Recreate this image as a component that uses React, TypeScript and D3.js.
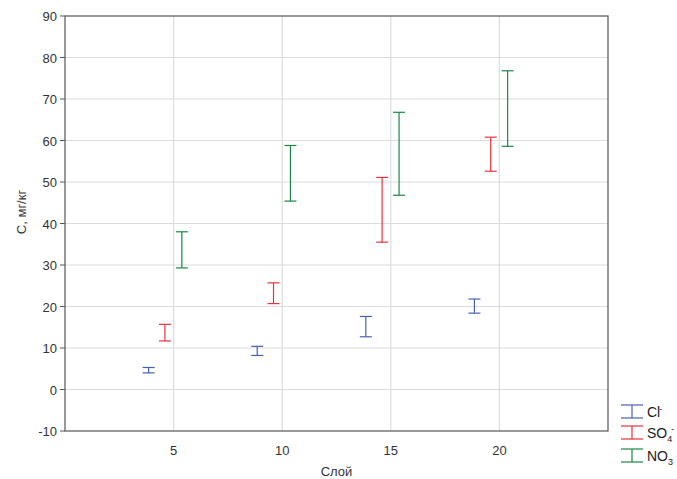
import React from 'react';
import * as d3 from 'd3';

// layers on the x axis
const layers = [5, 10, 15, 20];
const xTicks = [5, 10, 15, 20];
const yTicks = [-10, 0, 10, 20, 30, 40, 50, 60, 70, 80, 90];

// low / high ends of each error bar, one entry per layer
const clLow = [4.0, 8.2, 12.7, 18.4];
const clHigh = [5.3, 10.4, 17.6, 21.8];
const so4Low = [11.7, 20.7, 35.5, 52.6];
const so4High = [15.7, 25.7, 51.1, 60.8];
const no3Low = [29.3, 45.4, 46.8, 58.6];
const no3High = [38.0, 58.8, 66.8, 76.8];

const series = [
  { key: 'cl', low: clLow, high: clHigh, shift: -1.15, color: '#4661b3' },
  { key: 'so4', low: so4Low, high: so4High, shift: -0.4, color: '#e8333b' },
  { key: 'no3', low: no3Low, high: no3High, shift: 0.38, color: '#1a8745' },
];

const width = 677;
const height = 479;
const left = 65;
const right = 608;
const top = 16;
const bottom = 431;
const font = 'Liberation Sans, Arial, sans-serif';

export default function App() {
  const x = d3.scaleLinear().domain([0, 25]).range([left, right]);
  const y = d3.scaleLinear().domain([-10, 90]).range([bottom, top]);
  const cap = 6;

  const legendLabel = (key: string) => {
    if (key === 'cl') {
      return (
        <>
          <tspan>Cl</tspan>
          <tspan dx="-1" dy="-5" fontSize="9">-</tspan>
        </>
      );
    }
    if (key === 'so4') {
      return (
        <>
          <tspan>SO</tspan>
          <tspan dy="4" fontSize="9">4</tspan>
          <tspan dx="-1" dy="-10" fontSize="9">-</tspan>
        </>
      );
    }
    return (
      <>
        <tspan>NO</tspan>
        <tspan dy="4" fontSize="9">3</tspan>
      </>
    );
  };

  return (
    <svg width={width} height={height} style={{ position: 'absolute', left: 0, top: 0 }} fontFamily={font}>
      <rect width={width} height={height} fill="#fff" />
      {/* grid */}
      {yTicks.slice(1, -1).map(t => (
        <line key={'gy' + t} x1={left} x2={right} y1={y(t)} y2={y(t)} stroke="#dcdcdc" strokeWidth={1.2} />
      ))}
      {xTicks.map(t => (
        <line key={'gx' + t} x1={x(t)} x2={x(t)} y1={top} y2={bottom} stroke="#dcdcdc" strokeWidth={1.2} />
      ))}
      {/* error bars */}
      {series.map(s =>
        layers.map((l, i) => {
          const cx = x(l + s.shift);
          return (
            <g key={s.key + l} stroke={s.color} strokeWidth={1.2}>
              <line x1={cx} x2={cx} y1={y(s.high[i])} y2={y(s.low[i])} />
              <line x1={cx - cap} x2={cx + cap} y1={y(s.high[i])} y2={y(s.high[i])} />
              <line x1={cx - cap} x2={cx + cap} y1={y(s.low[i])} y2={y(s.low[i])} />
            </g>
          );
        })
      )}
      {/* frame */}
      <rect x={left} y={top} width={right - left} height={bottom - top} fill="none" stroke="#555" strokeWidth={1.2} />
      {yTicks.map(t => (
        <g key={'ty' + t}>
          <line x1={left - 5} x2={left} y1={y(t)} y2={y(t)} stroke="#555" />
          <text x={left - 8} y={y(t) + 5} textAnchor="end" fontSize={13} fill="#333">{t}</text>
        </g>
      ))}
      {xTicks.map(t => (
        <text key={'tx' + t} x={x(t)} y={455} textAnchor="middle" fontSize={13} fill="#333">{t}</text>
      ))}
      <text x={x(12.5)} y={476} textAnchor="middle" fontSize={13} fill="#333">Слой</text>
      <text transform={`translate(26,212) rotate(-90)`} textAnchor="middle" fontSize={13} fill="#333">C, мг/кг</text>
      {/* legend */}
      {series.map((s, i) => {
        const cy = [411, 432, 455][i];
        return (
          <g key={'lg' + s.key}>
            <g stroke={s.color} strokeWidth={1.2}>
              <line x1={621} x2={643} y1={cy - 6} y2={cy - 6} />
              <line x1={632} x2={632} y1={cy - 6} y2={cy + 7} />
              <line x1={621} x2={643} y1={cy + 7} y2={cy + 7} />
            </g>
            <text x={647} y={cy + 6} fontSize={14} fill="#222">{legendLabel(s.key)}</text>
          </g>
        );
      })}
    </svg>
  );
}
